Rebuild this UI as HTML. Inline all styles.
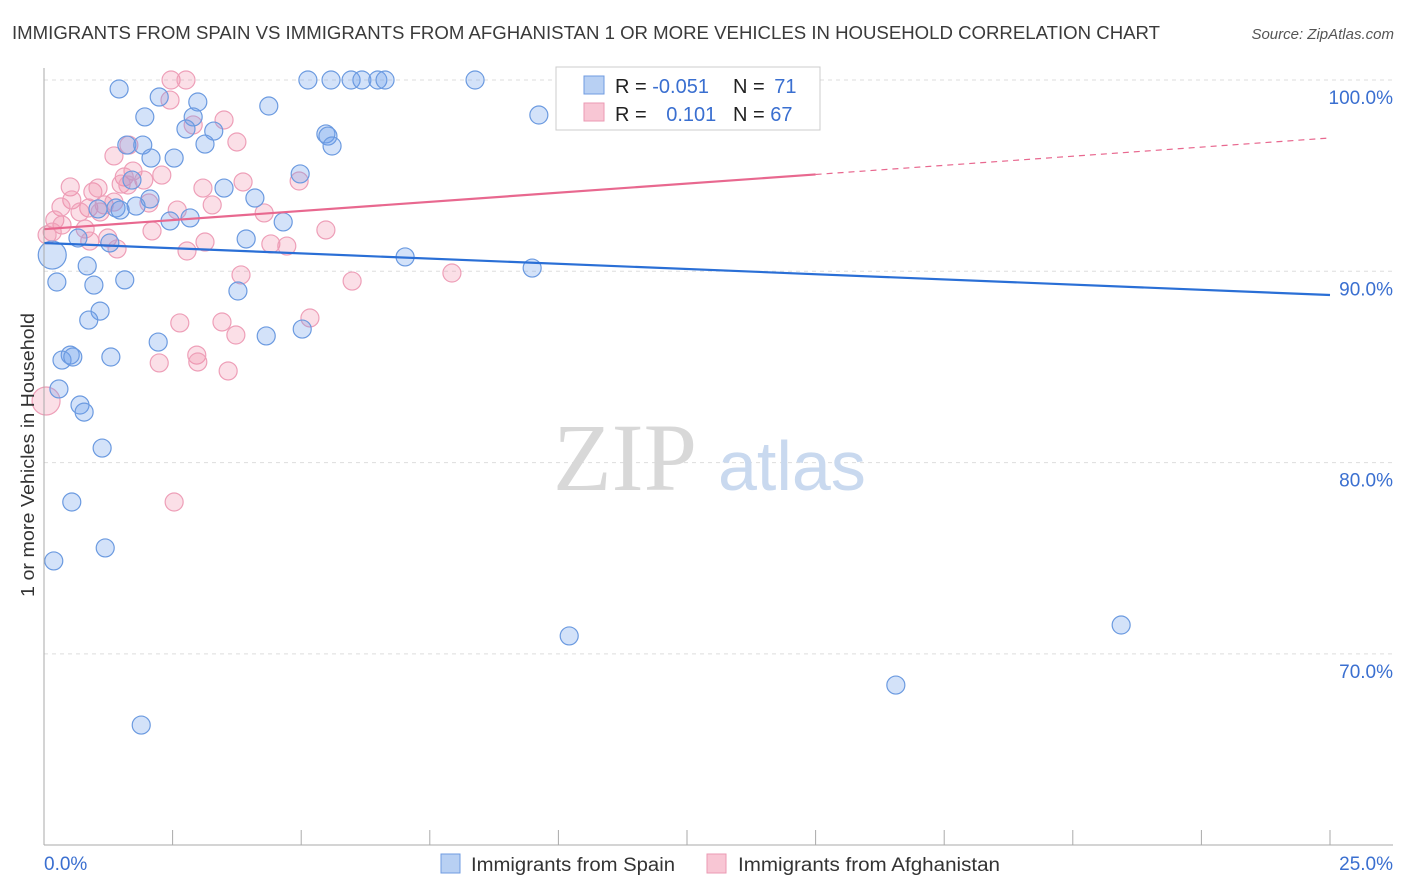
<!DOCTYPE html>
<html><head><meta charset="utf-8"><style>
body{margin:0;background:#fff;font-family:"Liberation Sans",sans-serif}
svg{display:block}
</style></head><body>
<svg id="chart" width="1406" height="892" xmlns="http://www.w3.org/2000/svg" font-family="Liberation Sans, sans-serif">
<text x="12" y="39" font-size="18" fill="#3a3a3a" textLength="1148" lengthAdjust="spacingAndGlyphs">IMMIGRANTS FROM SPAIN VS IMMIGRANTS FROM AFGHANISTAN 1 OR MORE VEHICLES IN HOUSEHOLD CORRELATION CHART</text>
<text x="1394" y="39" font-size="15" fill="#555" font-style="italic" text-anchor="end">Source: ZipAtlas.com</text>
<g id="grid"></g>
<text x="553" y="490" font-size="96" font-family="Liberation Serif, serif" fill="#d8d8d8">ZIP</text>
<text x="718" y="490" font-size="70" fill="#c9d9ef">atlas</text>
<g id="points"></g>
<g id="lines"></g>
<g id="axes"></g>
<text transform="translate(34,455) rotate(-90)" font-size="18" fill="#333" text-anchor="middle" textLength="284" lengthAdjust="spacingAndGlyphs">1 or more Vehicles in Household</text>
<g>
<rect x="556" y="67" width="264" height="63" fill="#fff" stroke="#ccc"/>
<rect x="584" y="76" width="20" height="18" fill="#b8d0f3" stroke="#6f9be0"/>
<rect x="584" y="103" width="20" height="18" fill="#f8c6d4" stroke="#eb9ab3"/>
<text x="615" y="93" font-size="20" fill="#222">R = <tspan fill="#3a6fd0">-0.051</tspan></text>
<text x="733" y="93" font-size="20" fill="#222">N = <tspan fill="#3a6fd0" dx="4">71</tspan></text>
<text x="615" y="121" font-size="20" fill="#222">R = <tspan fill="#3a6fd0" dx="14">0.101</tspan></text>
<text x="733" y="121" font-size="20" fill="#222">N = <tspan fill="#3a6fd0">67</tspan></text>
</g>
<g>
<rect x="441" y="854" width="19" height="19" fill="#b8d0f3" stroke="#6f9be0"/>
<text x="471" y="871" font-size="19" fill="#333" textLength="204" lengthAdjust="spacingAndGlyphs">Immigrants from Spain</text></g>
<g>
<rect x="707" y="854" width="19" height="19" fill="#f8c6d4" stroke="#eb9ab3"/>
<text x="738" y="871" font-size="19" fill="#333" textLength="262" lengthAdjust="spacingAndGlyphs">Immigrants from Afghanistan</text></g>
</svg>
<script>
const yTicks=[100,90,80,70];
const yTickLabels=["100.0%","90.0%","80.0%","70.0%"];
const xEndLabels=["0.0%","25.0%"];
const spainX=[1.46,2.24,2.99,1.96,2.90,2.76,3.30,3.13,1.61,1.92,2.53,2.08,4.37,5.13,5.58,5.97,6.18,6.49,6.63,8.38,9.62,11.04,11.98,5.48,5.52,5.60,4.98,3.50,4.10,2.06,1.79,1.40,1.05,2.84,2.45,4.65,1.28,0.66,3.93,0.16,0.84,0.25,0.97,1.57,3.77,7.02,9.49,1.09,0.87,2.22,4.32,5.02,0.51,0.35,0.56,1.30,0.29,0.70,0.78,1.13,0.54,1.19,0.19,10.21,20.94,16.56,1.89,1.71,1.48];
const spainY=[99.53,99.11,98.85,98.07,98.07,97.44,97.33,96.65,96.60,96.60,95.92,95.92,98.64,100,100,100,100,100,100,100,98.17,100,100,97.18,97.07,96.55,95.09,94.35,93.83,93.78,93.41,93.31,93.26,92.79,92.63,92.58,91.48,91.74,91.69,90.85,90.28,89.44,89.28,89.55,88.97,90.75,90.17,87.92,87.45,86.30,86.62,86.98,85.62,85.36,85.52,85.52,83.85,83.01,82.64,80.76,77.94,75.54,74.86,70.94,71.51,68.37,66.28,94.77,93.20];
const afgX=[2.47,2.76,10.38,11.47,2.45,2.90,3.50,3.75,1.36,1.65,1.73,2.29,1.56,1.50,1.94,3.09,3.87,4.96,0.51,0.95,0.54,0.33,0.87,1.17,1.36,1.09,0.70,2.04,2.59,3.27,4.28,0.21,0.35,0.16,0.80,1.24,2.10,3.13,4.41,4.72,5.48,1.42,2.78,0.89,3.83,5.99,7.93,2.64,3.46,3.73,5.17,2.97,2.99,2.24,3.58,2.53,0.04,1.63,1.05,0.06];
const afgY=[100,100,100,100,98.95,97.65,97.91,96.76,96.03,96.60,95.24,95.03,94.93,94.56,94.77,94.35,94.67,94.72,94.41,94.15,93.73,93.36,93.31,93.47,93.62,93.10,93.10,93.57,93.20,93.47,93.05,92.68,92.42,92.05,92.21,91.74,92.11,91.53,91.43,91.32,92.16,91.17,91.06,91.58,89.81,89.49,89.91,87.30,87.35,86.67,87.56,85.62,85.26,85.21,84.79,77.94,83.22,94.51,94.35,91.90];
const spainBig=[39]; const afgBig=[56];
const spainTrend=[91.48,88.76]; const afgTrend=[92.2,96.97]; const afgSolidEnd=15;
const NS="http://www.w3.org/2000/svg";
const X0=44,X1=1330,Y100=80,PX10=191.3;
const xs=v=>X0+(v/25)*(X1-X0);
const ys=v=>Y100+(100-v)/10*PX10;
function mk(tag,attrs,parent){const e=document.createElementNS(NS,tag);for(const k in attrs)e.setAttribute(k,attrs[k]);parent.appendChild(e);return e;}
const grid=document.getElementById('grid'),axes=document.getElementById('axes');
yTicks.forEach((t,i)=>{
 const l=mk('line',{x1:X0,x2:1393,y1:ys(t),y2:ys(t),stroke:'#ddd','stroke-dasharray':'4,4'},grid);
 
 
 const tx=mk('text',{x:1393,y:ys(t)+24,'font-size':19,fill:'#3a6fd0','text-anchor':'end'},axes);
 tx.textContent=yTickLabels[i];
 
 
});
mk('line',{x1:X0,x2:X0,y1:68,y2:845,stroke:'#aaa'},axes);
mk('line',{x1:X0,x2:1393,y1:845,y2:845,stroke:'#aaa'},axes);
for(let i=0;i<=10;i++){const t=mk('line',{x1:xs(i*2.5),x2:xs(i*2.5),y1:830,y2:845,stroke:'#aaa'},axes);
 
 }
const xl0=mk('text',{x:44,y:870,'font-size':19,fill:'#3a6fd0'},axes);xl0.textContent=xEndLabels[0];


const xl1=mk('text',{x:1393,y:870,'font-size':19,fill:'#3a6fd0','text-anchor':'end'},axes);xl1.textContent=xEndLabels[1];


const pts=document.getElementById('points');
afgX.forEach((v,i)=>{const c=mk('circle',{cx:xs(v),cy:ys(afgY[i]),r:afgBig.includes(i)?14:9,fill:'rgba(242,140,170,0.28)',stroke:'#ee9fb8','stroke-width':1.2},pts);
 
 });
spainX.forEach((v,i)=>{const c=mk('circle',{cx:xs(v),cy:ys(spainY[i]),r:spainBig.includes(i)?14:9,fill:'rgba(110,160,235,0.3)',stroke:'#6b9ae0','stroke-width':1.2},pts);
 
 });
const lines=document.getElementById('lines');
const bl=mk('line',{x1:xs(0),y1:ys(spainTrend[0]),x2:xs(25),y2:ys(spainTrend[1]),stroke:'#2a6fd6','stroke-width':2.2},lines);


const ym=afgTrend[0]+(afgTrend[1]-afgTrend[0])*afgSolidEnd/25;
const pl=mk('line',{x1:xs(0),y1:ys(afgTrend[0]),x2:xs(afgSolidEnd),y2:ys(ym),stroke:'#e8688f','stroke-width':2.2},lines);


const pd=mk('line',{x1:xs(afgSolidEnd),y1:ys(ym),x2:xs(25),y2:ys(afgTrend[1]),stroke:'#e8688f','stroke-width':1.2,'stroke-dasharray':'6,5'},lines);


</script>
</body></html>
